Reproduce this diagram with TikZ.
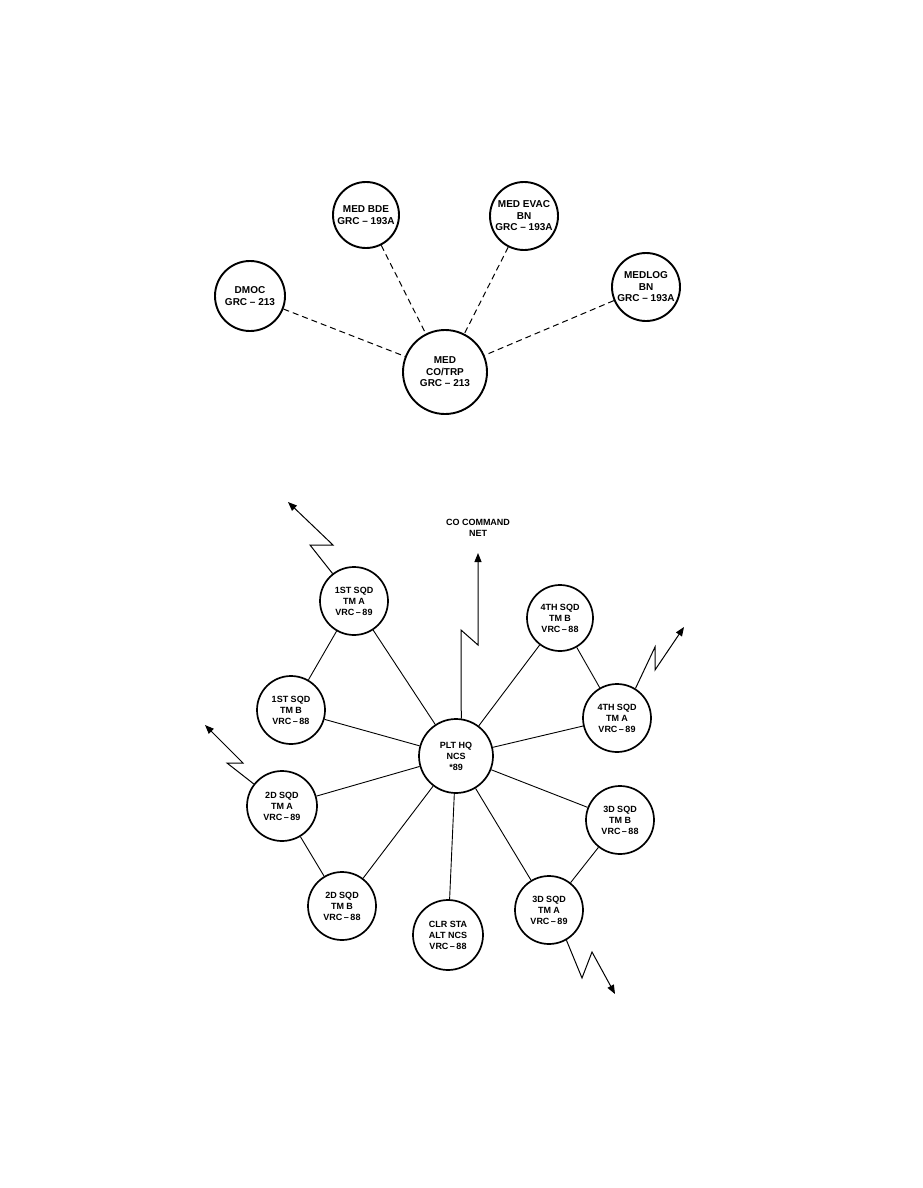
\documentclass[tikz,border=0pt]{standalone}
\usepackage{fontspec}
\setmainfont{Liberation Sans}
\usetikzlibrary{arrows.meta}
\begin{document}
\begin{tikzpicture}[x=1pt,y=-1pt,
  topnode/.style={circle,draw,line width=1.9pt,inner sep=0pt,align=center,font=\bfseries\fontsize{10}{11.5}\selectfont},
  botnode/.style={circle,draw,line width=1.7pt,inner sep=0pt,align=center,font=\bfseries\fontsize{9}{11}\selectfont},
  dashlink/.style={line width=1pt,dash pattern=on 6pt off 4pt},
  link/.style={line width=0.9pt},
  bolt/.style={line width=1pt,-{Triangle[length=9pt,width=7pt]}},
  lbl/.style={align=center,font=\bfseries\fontsize{9}{11}\selectfont}]
\useasboundingbox (0,0) rectangle (923,1188);
% top diagram
\node[topnode,minimum size=70pt] (dmoc) at (250,296) {DMOC\\GRC – 213};
\node[topnode,minimum size=66pt] (bde) at (366,215) {MED BDE\\GRC – 193A};
\node[topnode,minimum size=68pt] (evac) at (524,216) {MED EVAC\\BN\\GRC – 193A};
\node[topnode,minimum size=68pt] (medlog) at (646,287) {MEDLOG\\BN\\GRC – 193A};
\node[topnode,minimum size=84pt] (cotrp) at (445,372) {MED\\CO/TRP\\GRC – 213};
\draw[dashlink] (dmoc) -- (cotrp);
\draw[dashlink] (bde) -- (cotrp);
\draw[dashlink] (evac) -- (cotrp);
\draw[dashlink] (medlog) -- (cotrp);
% bottom diagram
\node[botnode,minimum size=74pt] (hq) at (456,756) {PLT HQ\\NCS\\*89};
\node[botnode,minimum size=68pt] (s1a) at (354,601) {1ST SQD\\TM A\\VRC\,–\,89};
\node[botnode,minimum size=68pt] (s1b) at (291,710) {1ST SQD\\TM B\\VRC\,–\,88};
\node[botnode,minimum size=70pt] (s2a) at (282,806) {2D SQD\\TM A\\VRC\,–\,89};
\node[botnode,minimum size=68pt] (s2b) at (342,906) {2D SQD\\TM B\\VRC\,–\,88};
\node[botnode,minimum size=70pt] (clr) at (448,935) {CLR STA\\ALT NCS\\VRC\,–\,88};
\node[botnode,minimum size=68pt] (s3a) at (549,910) {3D SQD\\TM A\\VRC\,–\,89};
\node[botnode,minimum size=68pt] (s3b) at (620,820) {3D SQD\\TM B\\VRC\,–\,88};
\node[botnode,minimum size=68pt] (s4a) at (617,718) {4TH SQD\\TM A\\VRC\,–\,89};
\node[botnode,minimum size=66pt] (s4b) at (560,618) {4TH SQD\\TM B\\VRC\,–\,88};
\foreach \n in {s1a,s1b,s2a,s2b,clr,s3a,s3b,s4a,s4b}{\draw[link] (hq) -- (\n);}
\draw[link] (s1a) -- (s1b);
\draw[link] (s2a) -- (s2b);
\draw[link] (s3a) -- (s3b);
\draw[link] (s4a) -- (s4b);
% CO command net
\node[lbl] (conet) at (478,528) {CO COMMAND\\NET};
\coordinate (cz1) at (461,630);
\coordinate (cz2) at (478,645);
\coordinate (ctip) at (478,553);
\draw[bolt] (hq.82) -- (cz1) -- (cz2) -- (ctip);
% lightning arrows
\coordinate (a1) at (310,545); \coordinate (a2) at (333,545); \coordinate (a3) at (288,502);
\draw[bolt] (s1a.128) -- (a1) -- (a2) -- (a3);
\coordinate (b1) at (655,647); \coordinate (b2) at (655,670); \coordinate (b3) at (684,627);
\draw[bolt] (s4a.58) -- (b1) -- (b2) -- (b3);
\coordinate (c1) at (227,763); \coordinate (c2) at (243,763); \coordinate (c3) at (205,725);
\draw[bolt] (s2a.142) -- (c1) -- (c2) -- (c3);
\coordinate (d1) at (582,978); \coordinate (d2) at (592,952); \coordinate (d3) at (615,994);
\draw[bolt] (s3a.-60) -- (d1) -- (d2) -- (d3);
\end{tikzpicture}
\end{document}
